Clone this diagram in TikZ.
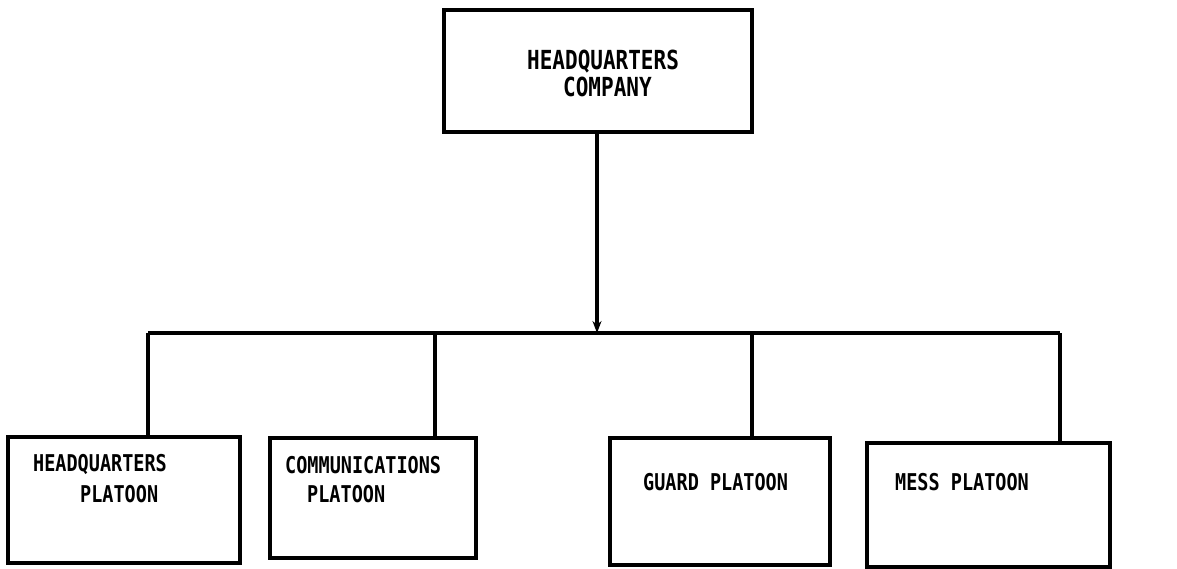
\documentclass[tikz,border=0pt]{standalone}
\usepackage{fontspec}
\newfontfamily\twfont{DejaVu Sans Mono}
\newcommand{\talltext}[1]{\scalebox{1}[1.25]{#1}}
\usetikzlibrary{arrows.meta}
\begin{document}
\begin{tikzpicture}[x=1pt,y=-1pt,
  box/.style={draw, rectangle, inner sep=0pt, line width=4pt},
  conn/.style={line width=4pt},
  lbl/.style={anchor=west, inner sep=0pt, font=\twfont\bfseries\fontsize{18.5}{20}\selectfont},
  toplbl/.style={anchor=west, inner sep=0pt, font=\twfont\bfseries\fontsize{21}{22}\selectfont}]
\useasboundingbox (0,0) rectangle (1177,569);
% boxes
\node[box, minimum width=308pt, minimum height=122pt] (hq) at (598,71) {};
\node[box, minimum width=232pt, minimum height=126pt] (b1) at (124,500) {};
\node[box, minimum width=206pt, minimum height=120pt] (b2) at (373,498) {};
\node[box, minimum width=220pt, minimum height=127pt] (b3) at (720,501.5) {};
\node[box, minimum width=243pt, minimum height=124pt] (b4) at (988.5,505) {};
% labels
\node[toplbl] (hq1) at (527,62) {\talltext{HEADQUARTERS}};
\node[toplbl] (hq2) at (563,87) {\talltext{COMPANY}};
\node[lbl] (l1a) at (33,465) {\talltext{HEADQUARTERS}};
\node[lbl] (l1b) at (80,494) {\talltext{PLATOON}};
\node[lbl] (l2a) at (285,465) {\talltext{COMMUNICATIONS}};
\node[lbl] (l2b) at (307,494) {\talltext{PLATOON}};
\node[lbl] (l3) at (643,482) {\talltext{GUARD PLATOON}};
\node[lbl] (l4) at (895,482) {\talltext{MESS PLATOON}};
% connectors
\coordinate (j) at (597,333);
\coordinate (c1) at (148,333);
\coordinate (c2) at (435,333);
\coordinate (c3) at (752,333);
\coordinate (c4) at (1060,333);
\draw[conn, -{Stealth[length=12pt,width=9pt]}] (hq.south -| j) -- (j);
\draw[conn] (c1) -- (c4);
\draw[conn] (c1) -- (c1 |- b1.north);
\draw[conn] (c2) -- (c2 |- b2.north);
\draw[conn] (c3) -- (c3 |- b3.north);
\draw[conn] (c4) -- (c4 |- b4.north);
\end{tikzpicture}
\end{document}
